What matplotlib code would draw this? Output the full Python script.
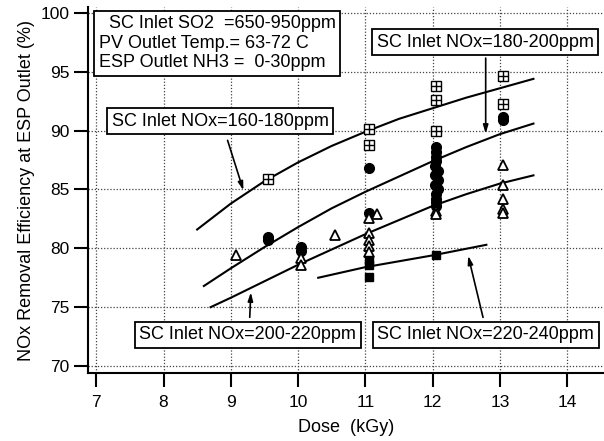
import matplotlib
matplotlib.use("Agg")
import matplotlib.pyplot as plt

plt.rcParams['font.family'] = ['Liberation Sans', 'DejaVu Sans']

# fitted curves (dose kGy, efficiency %)
c1_x = [8.5, 9.0, 9.5, 10.0, 10.5, 11.0, 11.5, 12.0, 12.5, 13.0, 13.5]
c1_y = [81.6, 83.8, 85.7, 87.3, 88.7, 89.9, 91.0, 91.9, 92.8, 93.6, 94.4]
c2_x = [8.6, 9.0, 9.5, 10.0, 10.5, 11.0, 11.5, 12.0, 12.5, 13.0, 13.5]
c2_y = [76.8, 78.3, 80.1, 81.8, 83.4, 84.8, 86.1, 87.4, 88.6, 89.7, 90.6]
c3_x = [8.7, 9.0, 9.5, 10.0, 10.5, 11.0, 11.5, 12.0, 12.5, 13.0, 13.5]
c3_y = [75.0, 75.8, 77.2, 78.6, 79.9, 81.2, 82.4, 83.6, 84.6, 85.5, 86.2]
c4_x = [10.3, 11.0, 12.0, 12.8]
c4_y = [77.5, 78.4, 79.4, 80.3]

# measured points
sq_x = [9.55, 11.05, 11.05, 12.05, 12.05, 12.05, 13.05, 13.05]
sq_y = [85.9, 90.1, 88.8, 93.8, 92.6, 90.0, 94.6, 92.3]

dot_x = [9.55, 9.55, 10.05, 10.05, 11.05, 11.05,
         12.05, 12.05, 12.05, 12.05, 12.03, 12.08, 12.03, 12.08, 12.03, 12.08,
         12.05, 12.05, 12.05, 12.05, 13.05, 13.05]
dot_y = [81.0, 80.7, 80.1, 79.8, 86.8, 83.0,
         88.6, 88.2, 87.8, 87.4, 87.0, 86.6, 86.2, 85.8, 85.4, 85.0,
         84.6, 84.2, 83.9, 83.6, 91.2, 90.9]

tri_x = [9.08, 10.05, 10.05, 10.55, 11.18, 11.05, 11.05, 11.05, 11.05, 11.05,
         12.05, 12.05, 13.05, 13.05, 13.05, 13.05, 13.05]
tri_y = [79.4, 79.2, 78.6, 81.1, 82.9, 82.6, 81.3, 80.7, 80.2, 79.7,
         83.2, 82.9, 87.1, 85.4, 84.2, 83.3, 83.0]

fsq_x = [11.05, 11.05, 11.05, 12.05]
fsq_y = [79.0, 78.6, 77.6, 79.45]

xticks = [7, 8, 9, 10, 11, 12, 13, 14]
yticks = [70, 75, 80, 85, 90, 95, 100]

fig = plt.figure(figsize=(6.04, 4.41), dpi=100)
ax = fig.add_axes([0.146, 0.154, 0.853, 0.830])

for cx, cy in [(c1_x, c1_y), (c2_x, c2_y), (c3_x, c3_y), (c4_x, c4_y)]:
    ax.plot(cx, cy, color='black', lw=1.5, zorder=3)

ax.plot(sq_x, sq_y, 's', ms=7, mfc='white', mec='black', mew=1.0, zorder=4)
ax.plot(sq_x, sq_y, '+', ms=7, color='black', mew=1.0, zorder=5)
ax.plot(dot_x, dot_y, 'o', ms=7, color='black', zorder=4)
ax.plot(tri_x, tri_y, '^', ms=7, mfc='white', mec='black', mew=1.3, zorder=4)
ax.plot(fsq_x, fsq_y, 's', ms=6, color='black', zorder=4)

ax.set_xlim(6.88, 14.54)
ax.set_ylim(69.4, 100.5)
ax.set_xticks(xticks)
ax.set_yticks(yticks)
ax.grid(True, linestyle=(0, (1, 1.5)), color='#444444', lw=0.9)
ax.spines['top'].set_visible(False)
ax.spines['right'].set_visible(False)
ax.spines['left'].set_linewidth(1.5)
ax.spines['bottom'].set_linewidth(1.5)
ax.tick_params(axis='both', direction='out', length=10, width=1.5, labelsize=12.5)
ax.tick_params(axis='x', pad=6)
ax.set_xlabel('Dose  (kGy)', fontsize=13, labelpad=6)
ax.set_ylabel('NOx Removal Efficiency at ESP Outlet (%)', fontsize=13, labelpad=4)

box = dict(boxstyle='square,pad=0.25', fc='white', ec='black', lw=1.3)

ax.text(7.04, 99.8, '  SC Inlet SO2  =650-950ppm\nPV Outlet Temp.= 63-72 C\nESP Outlet NH3 =  0-30ppm',
        ha='left', va='top', fontsize=13, linespacing=1.2, bbox=box, zorder=6)

ax.text(8.84, 90.8, 'SC Inlet NOx=160-180ppm', ha='center', va='center', fontsize=13,
        bbox=box, zorder=6)
ax.text(12.78, 97.5, 'SC Inlet NOx=180-200ppm', ha='center', va='center', fontsize=13,
        bbox=box, zorder=6)
ax.text(9.25, 72.65, 'SC Inlet NOx=200-220ppm', ha='center', va='center', fontsize=13,
        bbox=box, zorder=6)
ax.text(12.79, 72.65, 'SC Inlet NOx=220-240ppm', ha='center', va='center', fontsize=13,
        bbox=box, zorder=6)

arrow = dict(arrowstyle='-|>,head_length=0.5,head_width=0.15', color='black', lw=1.2)
ax.annotate('', xy=(9.2, 84.7), xytext=(8.94, 89.4), arrowprops=arrow)
ax.annotate('', xy=(12.79, 89.5), xytext=(12.79, 96.4), arrowprops=arrow)
ax.annotate('', xy=(9.30, 76.5), xytext=(9.28, 73.9), arrowprops=arrow)
ax.annotate('', xy=(12.52, 79.6), xytext=(12.76, 73.9), arrowprops=arrow)

fig.savefig('out.png', dpi=100)
